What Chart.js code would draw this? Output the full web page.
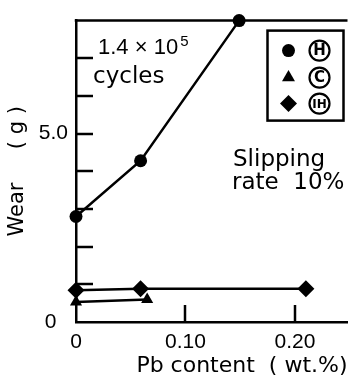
<!DOCTYPE html>
<html><head><meta charset="utf-8">
<script src="https://cdn.jsdelivr.net/npm/chart.js@4/dist/chart.umd.min.js"></script>
<style>html,body{margin:0;padding:0;background:#fff}</style>
</head><body>
<canvas id="c" width="356" height="381"></canvas>
<script>
// ---- data ----
const pbH = [0, 0.059, 0.149];
const wearH = [2.8, 4.28, 8.0];
const pbC = [0, 0.065];
const wearC = [0.53, 0.60];
const pbIH = [0, 0.059, 0.21];
const wearIH = [0.84, 0.88, 0.88];
const seriesNames = ['H', 'C', 'IH'];
const xTickValues = [0, 0.10, 0.20];
const xTickLabels = ['0', '0.10', '0.20'];
const yTickValues = [0, 5];
const yTickLabels = ['0  ', '5.0'];
const xInnerTicks = [0.10, 0.20];
const yInnerTicks = [1, 2, 3, 4, 5, 6, 7];
const xTitle = 'Pb content  ( wt.%)';
const yTitle = 'Wear     ( g )';

const toPts = (xs, ys) => xs.map((x, i) => ({x: x, y: ys[i]}));
const INK = '#000';

const decor = {
  id: 'decor',
  beforeDatasetsDraw(chart) {
    const {ctx, chartArea: ca, scales: {x, y}} = chart;
    ctx.save();
    ctx.strokeStyle = INK; ctx.lineWidth = 2.5; ctx.lineCap = 'butt';
    ctx.beginPath(); ctx.moveTo(ca.left - 1.25, ca.top); ctx.lineTo(ca.right, ca.top); ctx.stroke();
    yInnerTicks.forEach(v => {
      const py = Math.round(y.getPixelForValue(v));
      ctx.beginPath(); ctx.moveTo(ca.left, py); ctx.lineTo(ca.left + 17, py); ctx.stroke();
    });
    xInnerTicks.forEach(v => {
      const px = Math.round(x.getPixelForValue(v));
      ctx.beginPath(); ctx.moveTo(px, ca.bottom); ctx.lineTo(px, ca.bottom - 17); ctx.stroke();
    });
    ctx.restore();
  },
  afterDraw(chart) {
    const {ctx, chartArea: ca} = chart;
    ctx.save();
    ctx.fillStyle = INK; ctx.strokeStyle = INK;
    ctx.textBaseline = 'alphabetic'; ctx.textAlign = 'left';
    ctx.font = '22px "Liberation Sans"';
    ctx.fillText('1.4 \u00d7 10', ca.left + 22, ca.top + 33);
    const w = ctx.measureText('1.4 \u00d7 10').width;
    ctx.font = '15px "Liberation Sans"';
    ctx.fillText('5', ca.left + 22 + w + 2, ca.top + 25);
    ctx.font = '23px "DejaVu Sans"';
    ctx.fillText('cycles', ca.left + 17, ca.top + 62);
    ctx.fillText('Slipping', ca.left + 157, ca.top + 145);
    ctx.fillText('rate  10%', ca.left + 156, ca.top + 168);
    const bx = ca.right - 80, by = ca.top + 10, bw = 76, bh = 90;
    ctx.lineWidth = 2.5;
    ctx.strokeRect(bx, by, bw, bh);
    const mx = bx + 21, cx = bx + 52;
    const rows = [by + 20, by + 47, by + 73];
    ctx.beginPath(); ctx.arc(mx, rows[0], 6.5, 0, Math.PI * 2); ctx.fill();
    const r = 7.5;
    ctx.beginPath();
    ctx.moveTo(mx, rows[1] - r);
    ctx.lineTo(mx + r * 0.866, rows[1] + r * 0.5);
    ctx.lineTo(mx - r * 0.866, rows[1] + r * 0.5);
    ctx.closePath(); ctx.fill();
    const d = 8.5;
    ctx.beginPath();
    ctx.moveTo(mx, rows[2] - d); ctx.lineTo(mx + d, rows[2]);
    ctx.lineTo(mx, rows[2] + d); ctx.lineTo(mx - d, rows[2]);
    ctx.closePath(); ctx.fill();
    ctx.lineWidth = 2.2;
    ctx.textAlign = 'center'; ctx.textBaseline = 'middle';
    seriesNames.forEach((n, i) => {
      ctx.beginPath(); ctx.arc(cx, rows[i], 10, 0, Math.PI * 2); ctx.stroke();
      ctx.font = (n.length > 1 ? 'bold 12px' : 'bold 15px') + ' "DejaVu Sans"';
      ctx.fillText(n, cx, rows[i] + 1);
    });
    ctx.restore();
  }
};

const common = {showLine: true, borderColor: INK, borderWidth: 2.5, pointBackgroundColor: INK,
  pointBorderColor: INK, pointBorderWidth: 0, clip: false, tension: 0};

new Chart(document.getElementById('c'), {
  type: 'scatter',
  data: {
    datasets: [
      Object.assign({label: seriesNames[0], data: toPts(pbH, wearH), pointStyle: 'circle', pointRadius: 6.5}, common),
      Object.assign({label: seriesNames[1], data: toPts(pbC, wearC), pointStyle: 'triangle', pointRadius: 7}, common),
      Object.assign({label: seriesNames[2], data: toPts(pbIH, wearIH), pointStyle: 'rectRot', pointRadius: 8.5}, common)
    ]
  },
  options: {
    responsive: false,
    devicePixelRatio: 1,
    animation: false,
    layout: {padding: {top: 10, left: 0, right: 0, bottom: 0}},
    plugins: {legend: {display: false}, tooltip: {enabled: false}},
    scales: {
      x: {
        type: 'linear', min: 0, max: 0.248,
        afterBuildTicks: s => { s.ticks = xTickValues.map(v => ({value: v})); },
        afterFit: s => { s.height = 59; },
        ticks: {
          callback: v => { const i = xTickValues.indexOf(v); return i >= 0 ? xTickLabels[i] : ''; },
          font: {family: '"Liberation Sans"', size: 21}, color: INK, padding: 8,
          maxRotation: 0, autoSkip: false
        },
        grid: {display: false, drawTicks: false},
        border: {display: true, color: INK, width: 2.5},
        title: {display: true, text: xTitle, align: 'end', color: INK,
          font: {family: '"DejaVu Sans"', size: 22}, padding: {top: 0, bottom: 2}}
      },
      y: {
        type: 'linear', min: 0, max: 8,
        afterBuildTicks: s => { s.ticks = yTickValues.map(v => ({value: v})); },
        afterFit: s => { s.width = 76; },
        ticks: {
          callback: v => { const i = yTickValues.indexOf(v); return i >= 0 ? yTickLabels[i] : ''; },
          font: {family: '"Liberation Sans"', size: 21}, color: INK, padding: 8
        },
        grid: {display: false, drawTicks: false},
        border: {display: true, color: INK, width: 2.5},
        title: {display: true, text: yTitle, color: INK,
          font: {family: '"DejaVu Sans"', size: 21}, padding: {top: 5, bottom: 0}}
      }
    }
  },
  plugins: [decor]
});
</script>
</body></html>
